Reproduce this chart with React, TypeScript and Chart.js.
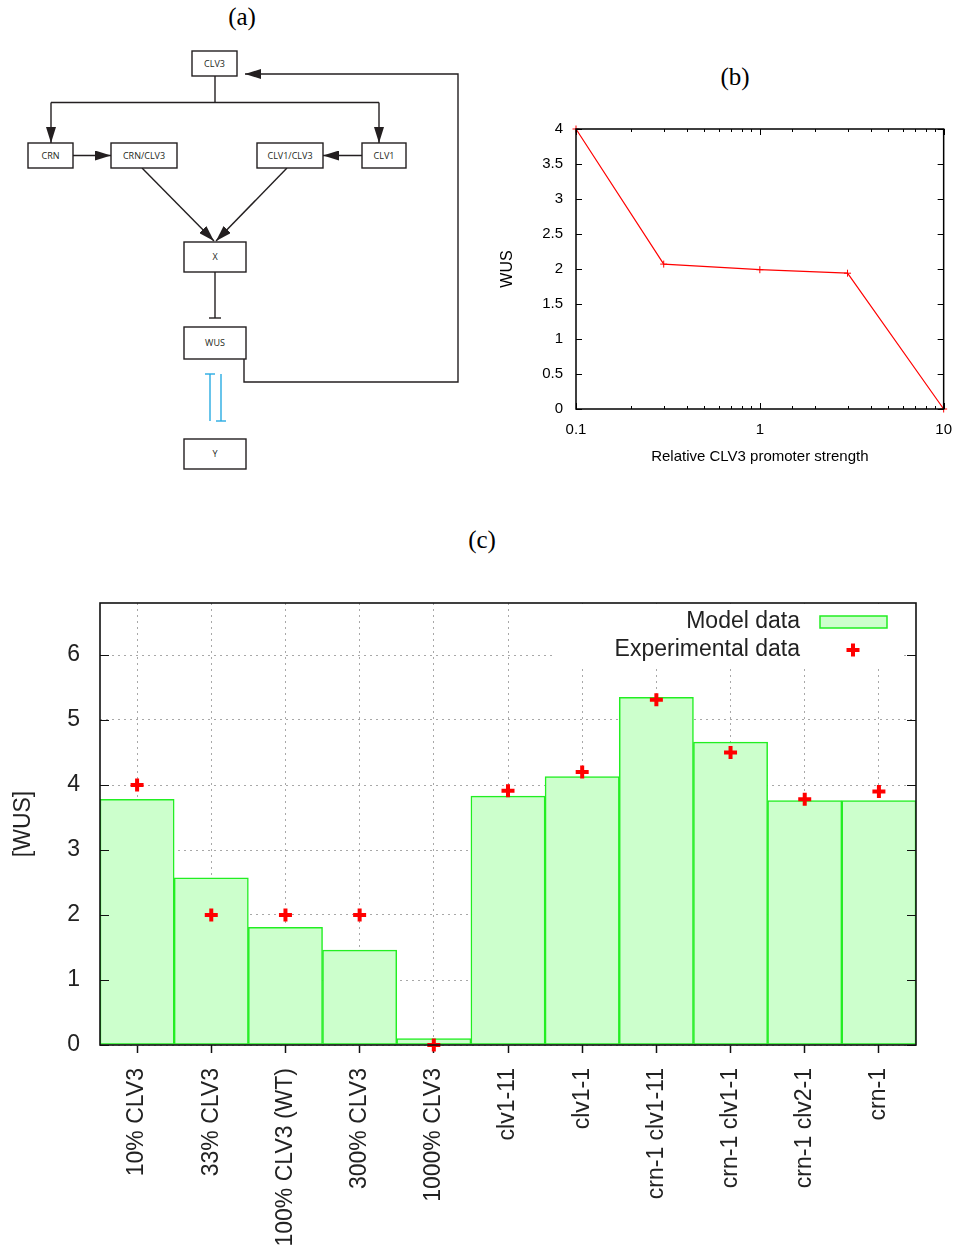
import React, { useEffect, useRef } from "react";
import { Chart, registerables } from "chart.js";
Chart.register(...registerables);

// ---------- Panel (b) data ----------
const promoterStrength = [0.1, 0.3, 1, 3, 10];
const wusLevels = [4.0, 2.07, 1.99, 1.94, 0.0];
const bXTickValues = [0.1, 1, 10];
const bXTickLabels = ["0.1", "1", "10"];

// ---------- Panel (c) data ----------
const categories = [
  "10% CLV3",
  "33% CLV3",
  "100% CLV3 (WT)",
  "300% CLV3",
  "1000% CLV3",
  "clv1-11",
  "clv1-1",
  "crn-1 clv1-11",
  "crn-1 clv1-1",
  "crn-1 clv2-1",
  "crn-1",
];
const modelData = [3.78, 2.57, 1.81, 1.46, 0.1, 3.83, 4.13, 5.35, 4.66, 3.76, 3.76];
const experimentalData = [4.0, 2.0, 2.0, 2.0, 0.0, 3.91, 4.2, 5.31, 4.5, 3.78, 3.9];

const SANS = "'Liberation Sans', Arial, sans-serif";
const SERIF = "'Liberation Serif', 'Times New Roman', serif";
const DIAG = "'Open Sans', 'Noto Sans', sans-serif";

const bFrame = {
  id: "bFrame",
  afterDraw(chart: any) {
    const { ctx, chartArea, scales } = chart;
    const { left, right, top, bottom } = chartArea;
    const x = scales.x;
    const y = scales.y;
    ctx.save();
    ctx.strokeStyle = "#000";
    ctx.lineWidth = 1;
    ctx.beginPath();
    for (const t of y.ticks) {
      const py = Math.round(y.getPixelForValue(t.value)) + 0.5;
      ctx.moveTo(left, py);
      ctx.lineTo(left + 6, py);
      ctx.moveTo(right, py);
      ctx.lineTo(right - 6, py);
    }
    for (const t of x.ticks) {
      const l = Math.log10(t.value);
      const major = Math.abs(l - Math.round(l)) < 1e-6;
      const len = major ? 6 : 3;
      const px = Math.round(x.getPixelForValue(t.value)) + 0.5;
      ctx.moveTo(px, bottom);
      ctx.lineTo(px, bottom - len);
      ctx.moveTo(px, top);
      ctx.lineTo(px, top + len);
    }
    ctx.stroke();
    ctx.lineWidth = 1.5;
    ctx.strokeRect(left, top, right - left, bottom - top);
    ctx.restore();
  },
};

function PanelB() {
  const ref = useRef<HTMLCanvasElement>(null);
  useEffect(() => {
    const chart = new Chart(ref.current as HTMLCanvasElement, {
      type: "line",
      data: {
        datasets: [
          {
            label: "WUS",
            data: promoterStrength.map((v, i) => ({ x: v, y: wusLevels[i] })),
            borderColor: "#ff0000",
            backgroundColor: "#ff0000",
            borderWidth: 1.2,
            pointStyle: "cross",
            pointRadius: 3.5,
            pointBorderWidth: 1,
            clip: false,
          } as any,
        ],
      },
      options: {
        animation: false,
        responsive: false,
        layout: { padding: { top: 29, right: 7, left: 0, bottom: 0 } },
        plugins: { legend: { display: false }, tooltip: { enabled: false } },
        scales: {
          x: {
            type: "logarithmic",
            min: 0.1,
            max: 10,
            grid: { display: false },
            border: { display: false },
            ticks: {
              autoSkip: false,
              maxRotation: 0,
              minRotation: 0,
              padding: 4,
              color: "#000",
              font: { family: SANS, size: 15 },
              callback: (v: any) => {
                const idx = bXTickValues.findIndex((t) => Math.abs(Math.log10(t) - Math.log10(Number(v))) < 1e-6);
                return idx >= 0 ? bXTickLabels[idx] : "";
              },
            },
            title: {
              display: true,
              text: "Relative CLV3 promoter strength",
              color: "#000",
              font: { family: SANS, size: 15 },
              padding: { top: 0, bottom: 14 },
            },
            afterFit: (s: any) => {
              s.height = 71;
            },
          },
          y: {
            min: 0,
            max: 4,
            grid: { display: false },
            border: { display: false },
            ticks: {
              stepSize: 0.5,
              padding: 5,
              color: "#000",
              font: { family: SANS, size: 15 },
              callback: (v: any) => String(Number(v)),
            },
            title: {
              display: true,
              text: "WUS",
              color: "#000",
              font: { family: SANS, size: 16 },
              padding: { top: 8, bottom: 0 },
            },
            afterFit: (s: any) => {
              s.width = 86;
            },
          },
        },
      } as any,
      plugins: [bFrame],
    });
    return () => chart.destroy();
  }, []);
  return (
    <canvas
      ref={ref}
      width={466}
      height={380}
      style={{ position: "absolute", left: 490, top: 100, width: 466, height: 380 }}
    />
  );
}

const cFrame = {
  id: "cFrame",
  afterDraw(chart: any) {
    const { ctx, chartArea, scales } = chart;
    const { left, right, top, bottom } = chartArea;
    const y = scales.y;
    ctx.save();
    ctx.strokeStyle = "#111";
    ctx.lineWidth = 1.2;
    ctx.beginPath();
    for (const t of y.ticks) {
      const py = Math.round(y.getPixelForValue(t.value)) + 0.5;
      ctx.moveTo(left, py);
      ctx.lineTo(left + 9, py);
      ctx.moveTo(right, py);
      ctx.lineTo(right - 9, py);
    }
    ctx.stroke();
    ctx.lineWidth = 1.6;
    ctx.strokeRect(left, top, right - left, bottom - top);
    ctx.restore();
  },
};

const cLegend = {
  id: "cLegend",
  afterDatasetsDraw(chart: any) {
    const { ctx, chartArea } = chart;
    const { right, top } = chartArea;
    const labels = chart.data.datasets;
    ctx.save();
    ctx.fillStyle = "#ffffff";
    ctx.fillRect(right - 364, top + 1, 348, 61);
    ctx.fillStyle = "#222";
    ctx.font = `23px ${SANS}`;
    ctx.textAlign = "right";
    ctx.textBaseline = "middle";
    const bar = labels.find((d: any) => d.type === "bar");
    const pts = labels.find((d: any) => d.type === "line");
    ctx.fillText(bar.label, right - 116, top + 19);
    ctx.fillText(pts.label, right - 116, top + 47);
    ctx.fillStyle = bar.backgroundColor;
    ctx.strokeStyle = bar.borderColor;
    ctx.lineWidth = 1.5;
    ctx.fillRect(right - 96, top + 13, 67, 12);
    ctx.strokeRect(right - 96, top + 13, 67, 12);
    ctx.strokeStyle = pts.borderColor;
    ctx.lineWidth = 4;
    ctx.beginPath();
    const cx = right - 63;
    const cy = top + 47;
    ctx.moveTo(cx - 6.5, cy);
    ctx.lineTo(cx + 6.5, cy);
    ctx.moveTo(cx, cy - 6.5);
    ctx.lineTo(cx, cy + 6.5);
    ctx.stroke();
    ctx.restore();
  },
};

function PanelC() {
  const ref = useRef<HTMLCanvasElement>(null);
  useEffect(() => {
    const chart = new Chart(ref.current as HTMLCanvasElement, {
      type: "bar",
      data: {
        labels: categories,
        datasets: [
          {
            type: "line",
            label: "Experimental data",
            data: experimentalData,
            showLine: false,
            pointStyle: "cross",
            pointRadius: 6.5,
            pointBorderWidth: 4,
            borderColor: "#ff0000",
            backgroundColor: "#ff0000",
            order: 0,
            clip: false,
          } as any,
          {
            type: "bar",
            label: "Model data",
            data: modelData,
            backgroundColor: "#ccffcc",
            borderColor: "#22ee22",
            borderWidth: 1.5,
            borderSkipped: false,
            barPercentage: 1,
            categoryPercentage: 1,
            order: 1,
          } as any,
        ],
      },
      options: {
        animation: false,
        responsive: false,
        layout: { padding: { top: 43, right: 40, left: 0, bottom: 0 } },
        plugins: { legend: { display: false }, tooltip: { enabled: false } },
        scales: {
          x: {
            grid: {
              offset: false,
              color: "#a8a8a8",
              lineWidth: 1,
              drawTicks: true,
              tickLength: 8,
              tickColor: "#111",
              tickWidth: 1.5,
              tickBorderDash: [],
            },
            border: { display: false, dash: [2, 4] },
            ticks: {
              autoSkip: false,
              maxRotation: 90,
              minRotation: 90,
              padding: 15,
              color: "#222",
              font: { family: SANS, size: 23 },
            },
            afterFit: (s: any) => {
              s.height = 215;
            },
          },
          y: {
            min: 0,
            max: 6.8,
            grid: { color: "#a8a8a8", lineWidth: 1, drawTicks: false },
            border: { display: false, dash: [2, 4] },
            ticks: {
              stepSize: 1,
              includeBounds: false,
              padding: 20,
              color: "#222",
              font: { family: SANS, size: 23 },
            },
            title: {
              display: true,
              text: "[WUS]",
              color: "#222",
              font: { family: SANS, size: 23 },
              padding: { top: 10, bottom: 0 },
            },
            afterFit: (s: any) => {
              s.width = 100;
            },
          },
        },
      } as any,
      plugins: [cLegend, cFrame],
    });
    return () => chart.destroy();
  }, []);
  return (
    <canvas
      ref={ref}
      width={956}
      height={700}
      style={{ position: "absolute", left: 0, top: 560, width: 956, height: 700 }}
    />
  );
}

function Box({ x, y, w, h, label }: { x: number; y: number; w: number; h: number; label: string }) {
  return (
    <g>
      <rect x={x} y={y} width={w} height={h} fill="#fff" stroke="#231f20" strokeWidth={1.4} />
      <text
        x={x + w / 2}
        y={y + h / 2 + 3}
        textAnchor="middle"
        fontFamily={DIAG}
        fontSize={9}
        fill="#231f20"
      >
        {label}
      </text>
    </g>
  );
}

function Diagram() {
  const stroke = "#231f20";
  return (
    <svg
      width={480}
      height={480}
      style={{ position: "absolute", left: 0, top: 0 }}
      viewBox="0 0 480 480"
    >
      <defs>
        <marker
          id="ah"
          viewBox="0 0 16 10"
          refX="16"
          refY="5"
          markerWidth="16"
          markerHeight="10"
          markerUnits="userSpaceOnUse"
          orient="auto"
        >
          <path d="M0,0 L16,5 L0,10 z" fill={stroke} />
        </marker>
      </defs>
      <g fill="none" stroke={stroke} strokeWidth={1.4}>
        <path d="M215,76 L215,102.5" />
        <path d="M51,102.5 L379,102.5" />
        <path d="M51,102.5 L51,143" markerEnd="url(#ah)" />
        <path d="M379,102.5 L379,143" markerEnd="url(#ah)" />
        <path d="M73,155.5 L111,155.5" markerEnd="url(#ah)" />
        <path d="M362,155.5 L323,155.5" markerEnd="url(#ah)" />
        <path d="M142,168 L214,241" markerEnd="url(#ah)" />
        <path d="M287,168 L216,241" markerEnd="url(#ah)" />
        <path d="M215,272 L215,318" />
        <path d="M209,318 L221,318" />
        <path d="M244,359 L244,382 L458,382 L458,74 L245,74" markerEnd="url(#ah)" />
      </g>
      <g fill="none" stroke="#29abe2" strokeWidth={1.4}>
        <path d="M210,374 L210,421" />
        <path d="M205,374 L215,374" />
        <path d="M221,374 L221,421" />
        <path d="M216,421 L226,421" />
      </g>
      <Box x={192} y={51} w={45} h={25} label="CLV3" />
      <Box x={28} y={143} w={45} h={25} label="CRN" />
      <Box x={111} y={143} w={66} h={25} label="CRN/CLV3" />
      <Box x={257} y={143} w={66} h={25} label="CLV1/CLV3" />
      <Box x={362} y={143} w={44} h={25} label="CLV1" />
      <Box x={184} y={242} w={62} h={30} label="X" />
      <Box x={184} y={327} w={62} h={32} label="WUS" />
      <Box x={184} y={439} w={62} h={30} label="Y" />
    </svg>
  );
}

function PanelTitle({ cx, cy, text }: { cx: number; cy: number; text: string }) {
  return (
    <div
      style={{
        position: "absolute",
        left: cx - 50,
        top: cy - 13,
        width: 100,
        height: 26,
        lineHeight: "26px",
        textAlign: "center",
        fontFamily: SERIF,
        fontSize: 25,
        color: "#000",
      }}
    >
      {text}
    </div>
  );
}

export default function App() {
  return (
    <div
      style={{
        position: "absolute",
        left: 0,
        top: 0,
        width: 956,
        height: 1260,
        background: "#fff",
        overflow: "hidden",
      }}
    >
      <PanelTitle cx={242} cy={17} text="(a)" />
      <Diagram />
      <PanelTitle cx={735} cy={77} text="(b)" />
      <PanelB />
      <PanelTitle cx={482} cy={540} text="(c)" />
      <PanelC />
    </div>
  );
}
